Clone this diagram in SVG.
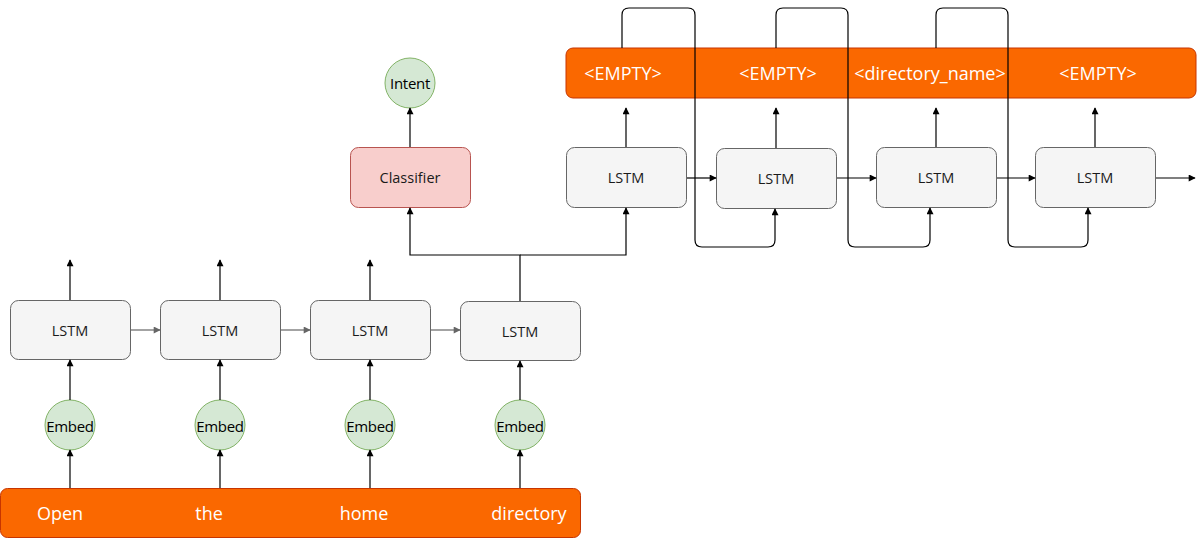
<svg xmlns="http://www.w3.org/2000/svg" width="1204" height="539" viewBox="0 0 1204 539">
<style>
.lstm{fill:#f5f5f5;stroke:#666666;stroke-width:1}
.emb{fill:#d5e8d4;stroke:#82b366;stroke-width:1}
.bar{fill:#fa6800;stroke:#c73500;stroke-width:1}
.cls{fill:#f8cecc;stroke:#b85450;stroke-width:1}
.t{font-family:"Open Sans","Liberation Sans",sans-serif;font-size:14.5px;fill:#1a1a1a;text-anchor:middle;dominant-baseline:central}
.e{font-family:"Open Sans","Liberation Sans",sans-serif;font-size:15px;fill:#000;text-anchor:middle;dominant-baseline:central;letter-spacing:-0.3px}
.w{font-family:"Open Sans","Liberation Sans",sans-serif;font-size:18px;fill:#ffffff;text-anchor:middle;dominant-baseline:central}
.c{fill:none;stroke:#000;stroke-width:1.2}
.g{fill:none;stroke:#666666;stroke-width:1.2}
</style>
<defs>
<marker id="a" viewBox="0 0 10 10" refX="9" refY="5" markerWidth="8" markerHeight="7" orient="auto" markerUnits="userSpaceOnUse"><path d="M0,0 L10,5 L0,10 z" fill="#000"/></marker>
<marker id="ag" viewBox="0 0 10 10" refX="9" refY="5" markerWidth="8" markerHeight="7" orient="auto" markerUnits="userSpaceOnUse"><path d="M0,0 L10,5 L0,10 z" fill="#666666"/></marker>
</defs>

<g id="input-bar">
<rect class="bar" x="0.5" y="488.5" width="580" height="49" rx="7"/>
<text class="w" x="60" y="513">Open</text>
<text class="w" x="209" y="513">the</text>
<text class="w" x="364" y="513">home</text>
<text class="w" x="529" y="513">directory</text>
</g>

<g id="output-bar">
<rect class="bar" x="566" y="48" width="630" height="50" rx="7"/>
<text class="w" x="623" y="73">&lt;EMPTY&gt;</text>
<text class="w" x="778" y="73">&lt;EMPTY&gt;</text>
<text class="w" x="930" y="73">&lt;directory_name&gt;</text>
<text class="w" x="1098" y="73">&lt;EMPTY&gt;</text>
</g>

<g id="embed1"><circle class="emb" cx="70" cy="425" r="25"/><text class="e" x="70" y="426">Embed</text></g>
<g id="embed2"><circle class="emb" cx="220" cy="425" r="25"/><text class="e" x="220" y="426">Embed</text></g>
<g id="embed3"><circle class="emb" cx="370" cy="425" r="25"/><text class="e" x="370" y="426">Embed</text></g>
<g id="embed4"><circle class="emb" cx="520" cy="425" r="25"/><text class="e" x="520" y="426">Embed</text></g>

<g id="lstm-b1"><rect class="lstm" x="10.5" y="300.5" width="120" height="59" rx="8"/><text class="t" x="70" y="330">LSTM</text></g>
<g id="lstm-b2"><rect class="lstm" x="160.5" y="300.5" width="120" height="59" rx="8"/><text class="t" x="220" y="330">LSTM</text></g>
<g id="lstm-b3"><rect class="lstm" x="310.5" y="300.5" width="120" height="59" rx="8"/><text class="t" x="370" y="330">LSTM</text></g>
<g id="lstm-b4"><rect class="lstm" x="460.5" y="301.5" width="120" height="59" rx="8"/><text class="t" x="520" y="331">LSTM</text></g>

<g id="classifier"><rect class="cls" x="350.5" y="147.5" width="120" height="60" rx="8"/><text class="t" x="410" y="177">Classifier</text></g>
<g id="intent"><circle class="emb" cx="410" cy="83" r="25"/><text class="e" x="410" y="83">Intent</text></g>

<g id="lstm-t1"><rect class="lstm" x="566.5" y="147.5" width="120" height="60" rx="8"/><text class="t" x="626" y="177">LSTM</text></g>
<g id="lstm-t2"><rect class="lstm" x="716.5" y="148.5" width="120" height="60" rx="8"/><text class="t" x="776" y="178">LSTM</text></g>
<g id="lstm-t3"><rect class="lstm" x="876.5" y="147.5" width="120" height="60" rx="8"/><text class="t" x="936" y="177">LSTM</text></g>
<g id="lstm-t4"><rect class="lstm" x="1035.5" y="147.5" width="120" height="60" rx="8"/><text class="t" x="1095" y="177">LSTM</text></g>

<g id="connectors">
<path class="c" d="M70,488 V450" marker-end="url(#a)"/>
<path class="c" d="M220,488 V450" marker-end="url(#a)"/>
<path class="c" d="M370,488 V450" marker-end="url(#a)"/>
<path class="c" d="M520,488 V450" marker-end="url(#a)"/>
<path class="c" d="M70,400 V360" marker-end="url(#a)"/>
<path class="c" d="M220,400 V360" marker-end="url(#a)"/>
<path class="c" d="M370,400 V360" marker-end="url(#a)"/>
<path class="c" d="M520,400 V361" marker-end="url(#a)"/>
<path class="c" d="M70,300 V260" marker-end="url(#a)"/>
<path class="c" d="M220,300 V260" marker-end="url(#a)"/>
<path class="c" d="M370,300 V260" marker-end="url(#a)"/>
<path class="g" d="M131,330 H160" marker-end="url(#ag)"/>
<path class="g" d="M281,330 H310" marker-end="url(#ag)"/>
<path class="g" d="M431,330 H460" marker-end="url(#ag)"/>
<path class="c" d="M520,301 V255 H410 V208" marker-end="url(#a)"/>
<path class="c" d="M520,255 H626 V208" marker-end="url(#a)"/>
<path class="c" d="M410,147 V108" marker-end="url(#a)"/>
<path class="c" d="M626,147 V108" marker-end="url(#a)"/>
<path class="c" d="M776,148 V108" marker-end="url(#a)"/>
<path class="c" d="M936,147 V108" marker-end="url(#a)"/>
<path class="c" d="M1095,147 V108" marker-end="url(#a)"/>
<path class="c" d="M687,178 H716" marker-end="url(#a)"/>
<path class="c" d="M837,178 H876" marker-end="url(#a)"/>
<path class="c" d="M997,178 H1035" marker-end="url(#a)"/>
<path class="c" d="M1156,178 H1195" marker-end="url(#a)"/>
<path class="c" d="M622,48 V15 Q622,8 629,8 H688 Q695,8 695,15 V240 Q695,247 702,247 H768 Q775,247 775,240 V209" marker-end="url(#a)"/>
<path class="c" d="M776,48 V15 Q776,8 783,8 H841 Q848,8 848,15 V240 Q848,247 855,247 H923 Q930,247 930,240 V208" marker-end="url(#a)"/>
<path class="c" d="M936,48 V15 Q936,8 943,8 H1001 Q1008,8 1008,15 V240 Q1008,247 1015,247 H1081 Q1088,247 1088,240 V208" marker-end="url(#a)"/>
</g>
</svg>
